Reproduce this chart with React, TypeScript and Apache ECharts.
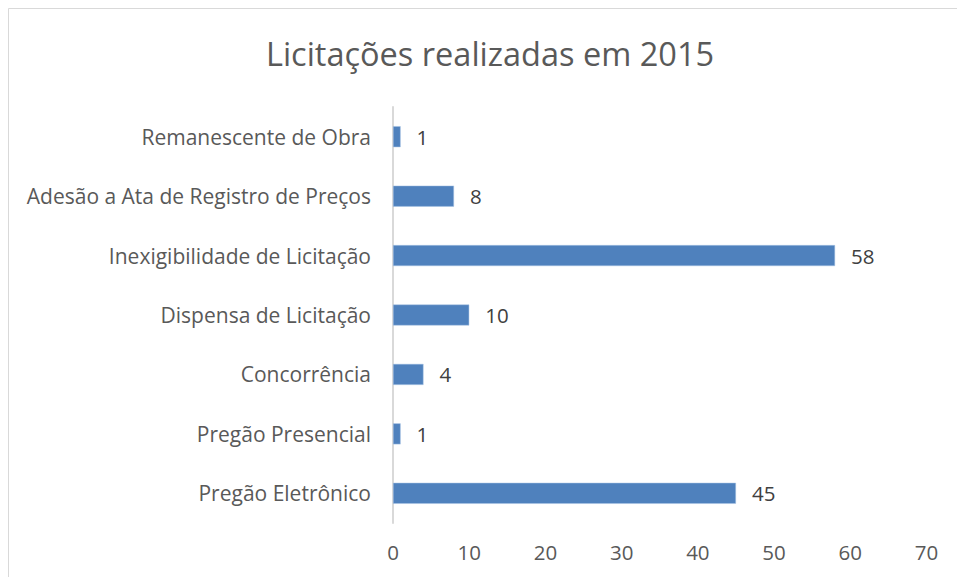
import React, { useEffect, useRef } from "react";
import * as echarts from "echarts";

const categories = [
  "Pregão Eletrônico",
  "Pregão Presencial",
  "Concorrência",
  "Dispensa de Licitação",
  "Inexigibilidade de Licitação",
  "Adesão a Ata de Registro de Preços",
  "Remanescente de Obra",
];
const values = [45, 1, 4, 10, 58, 8, 1];
const titleText = "Licitações realizadas em 2015";

const FONT = "'Open Sans', sans-serif";

export default function App() {
  const ref = useRef<HTMLDivElement>(null);
  useEffect(() => {
    if (!ref.current) return;
    const chart = echarts.init(ref.current, undefined, { renderer: "svg" });
    chart.setOption({
      animation: false,
      backgroundColor: "#ffffff",
      textStyle: { fontFamily: FONT },
      graphic: [
        {
          type: "rect",
          shape: { x: 8.5, y: 8.5, width: 1000, height: 1000 },
          style: { fill: "none", stroke: "#d9d9d9", lineWidth: 1 },
          silent: true,
        },
        {
          type: "text",
          x: 490,
          y: 53,
          style: {
            text: titleText,
            fontSize: 32.5,
            fontFamily: FONT,
            fill: "#595959",
            textAlign: "center",
            textVerticalAlign: "middle",
          },
        },
      ],
      grid: { left: 393, right: 30.5, top: 107, bottom: 54, containLabel: false },
      xAxis: {
        type: "value",
        min: 0,
        max: 70,
        interval: 10,
        axisLine: { show: false },
        axisTick: { show: false },
        splitLine: { show: false },
        axisLabel: { fontSize: 20.5, color: "#595959", margin: 18, fontFamily: FONT },
      },
      yAxis: {
        type: "category",
        data: categories,
        axisLine: { show: true, lineStyle: { color: "#d9d9d9", width: 2 } },
        axisTick: { show: false },
        axisLabel: { fontSize: 21, color: "#595959", margin: 22, fontFamily: FONT },
      },
      series: [
        {
          type: "bar",
          data: values,
          barWidth: 21,
          itemStyle: { color: "#4f81bd", borderColor: "#a9c4e4", borderWidth: 0.5 },
          label: {
            show: true,
            position: "right",
            distance: 16,
            fontSize: 20.5,
            color: "#404040",
            fontFamily: FONT,
          },
        },
      ],
    });
    return () => chart.dispose();
  }, []);
  return (
    <div
      ref={ref}
      style={{ position: "fixed", left: 0, top: 0, width: 957, height: 577 }}
    />
  );
}
